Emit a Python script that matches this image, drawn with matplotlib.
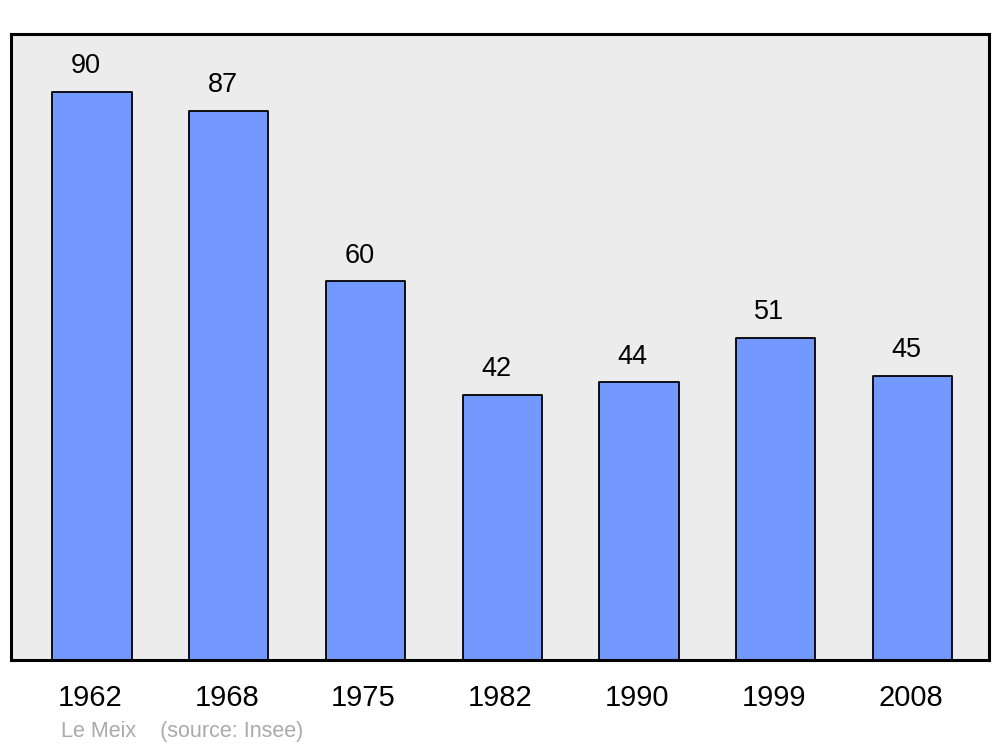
import matplotlib
matplotlib.use('Agg')
import matplotlib.pyplot as plt
import matplotlib.transforms as mtransforms

plt.rcParams['font.family'] = ['Liberation Sans', 'DejaVu Sans']

years  = ['1962', '1968', '1975', '1982', '1990', '1999', '2008']
values = [90, 87, 60, 42, 44, 51, 45]

fig = plt.figure(figsize=(10, 7.47), dpi=100)
ax  = fig.add_axes([0.011, 1 - 660/747, 0.978, (660 - 34)/747])
ax.set_facecolor('#ececec')

x = range(len(years))
bars = ax.bar(x, values, width=0.58, color='#7399ff', edgecolor='black', linewidth=1.3, zorder=2)
for b in bars:
    b.set_joinstyle('round')

for xi, v in zip(x, values):
    ax.annotate(str(v), (xi, v), xytext=(-4.5, 18.5), textcoords='offset points',
                ha='center', va='center', fontsize=19.5)

ax.set_xlim(-0.592, 6.559)
ax.set_ylim(0, 99.2)
ax.set_xticks(list(x))
ax.set_xticklabels(years, fontsize=21)
ax.tick_params(axis='x', length=0, pad=17)
shift = mtransforms.ScaledTranslation(-1.5/72, 0, fig.dpi_scale_trans)
for lbl in ax.get_xticklabels():
    lbl.set_transform(lbl.get_transform() + shift)
ax.set_yticks([])
for s in ax.spines.values():
    s.set_linewidth(2.2)
    s.set_joinstyle('round')

fig.text(0.061, 0.014, 'Le Meix    (source: Insee)', color='#aaaaaa', fontsize=15.5)

fig.savefig('out.png', dpi=100)
